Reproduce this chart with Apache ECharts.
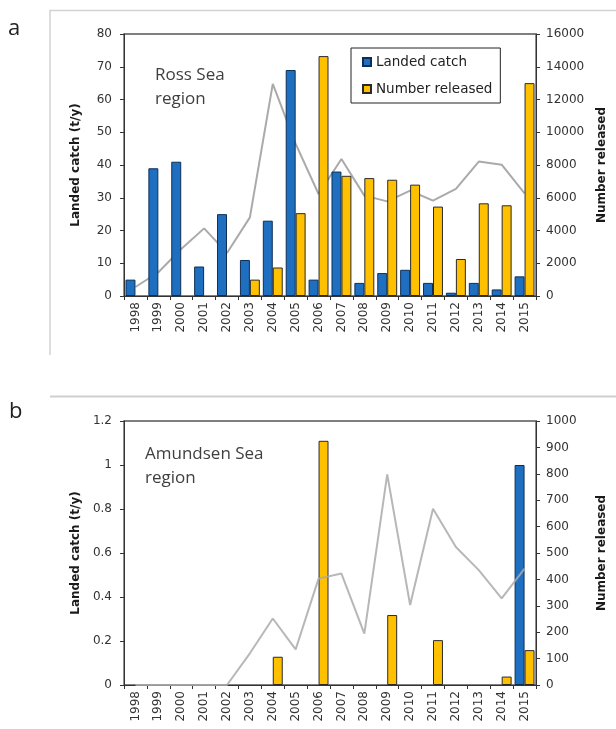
<!DOCTYPE html>
<html>
<head>
<meta charset="utf-8">
<script src="https://cdn.jsdelivr.net/npm/echarts@6/dist/echarts.min.js"></script>
<style>
html,body{margin:0;padding:0;background:#fff;}
#chart{width:616px;height:729px;}
</style>
</head>
<body>
<div id="chart"></div>
<script>
// ---- data ----
const years = ['1998','1999','2000','2001','2002','2003','2004','2005','2006','2007','2008','2009','2010','2011','2012','2013','2014','2015'];
// Panel a: Ross Sea region
const catchA    = [5, 39, 41, 9, 25, 11, 23, 69, 5, 38, 4, 7, 8, 4, 1, 4, 2, 6];
const releasedA = ['-', '-', '-', '-', '-', 1000, 1740, 5060, 14650, 7340, 7200, 7100, 6800, 5460, 2260, 5660, 5540, 13000];
const lineA     = [550, 1450, 2870, 4130, 2630, 4800, 12950, 9290, 6230, 8370, 6130, 5780, 6430, 5820, 6540, 8210, 8020, 6270];
// Panel b: Amundsen Sea region
const catchB    = ['-', '-', '-', '-', '-', '-', '-', '-', '-', '-', '-', '-', '-', '-', '-', '-', '-', 1.0];
const releasedB = ['-', '-', '-', '-', '-', '-', 107, '-', 925, '-', '-', 265, '-', 170, '-', '-', 32, 132];
const lineB     = [0, 0, 0, 0, 0, 120, 252, 135, 403, 422, 195, 798, 303, 668, 523, 435, 328, 441];
// axis ticks
const leftTicksA  = {min: 0, max: 80, interval: 10};
const rightTicksA = {min: 0, max: 16000, interval: 2000};
const leftTicksB  = {min: 0, max: 1.2, interval: 0.2};
const rightTicksB = {min: 0, max: 1000, interval: 100};

const TICK_FONT = 'DejaVu Sans';
const blue = '#1f6fc1', yellow = '#ffc000', grey = '#aaaaaa';

function fmt(v) { return String(parseFloat(Number(v).toFixed(3))); }

function yAxisDef(grid, pos, t, name, gap, margin) {
  return {
    type: 'value', gridIndex: grid, position: pos,
    min: t.min, max: t.max, interval: t.interval,
    name: name, nameLocation: 'middle', nameGap: gap, nameRotate: 90,
    nameTextStyle: {fontFamily: TICK_FONT, fontWeight: 'bold', fontSize: 12, color: '#1a1a1a'},
    axisLine: {show: true, lineStyle: {color: '#333', width: 1}},
    axisTick: {show: true, length: 4, lineStyle: {color: '#333'}},
    axisLabel: {fontFamily: TICK_FONT, fontSize: 12, color: '#333', margin: margin, formatter: fmt},
    splitLine: {show: false}
  };
}
function xAxisDef(grid) {
  return {
    type: 'category', gridIndex: grid, data: years,
    axisLine: {show: true, lineStyle: {color: '#333', width: 1}},
    axisTick: {show: true, length: 4, lineStyle: {color: '#333'}},
    axisLabel: {rotate: 90, fontFamily: TICK_FONT, fontSize: 12, color: '#333', margin: 6, interval: 0},
    splitLine: {show: false}
  };
}
const barBase = {barGap: '0%', barCategoryGap: '13%'};

const option = {
  backgroundColor: '#fff',
  animation: false,
  title: [
    {text: 'Ross Sea\nregion', left: 150, top: 58,
     textStyle: {fontFamily: 'Open Sans', fontSize: 17, fontWeight: 'normal', color: '#404040', lineHeight: 24}},
    {text: 'Amundsen Sea\nregion', left: 140, top: 437,
     textStyle: {fontFamily: 'Open Sans', fontSize: 17, fontWeight: 'normal', color: '#404040', lineHeight: 24}}
  ],
  legend: {
    data: ['Landed catch', 'Number released'],
    orient: 'vertical', left: 351, top: 48,
    itemWidth: 8, itemHeight: 8, itemGap: 13,
    padding: [7, 8, 7, 11],
    borderColor: '#222', borderWidth: 1,
    icon: 'rect',
    textStyle: {fontFamily: TICK_FONT, fontSize: 13.5, color: '#222'}
  },
  grid: [
    {left: 124, top: 34, width: 417, height: 262, show: true, borderColor: '#555', borderWidth: 1.3, backgroundColor: 'transparent'},
    {left: 124, top: 421, width: 418, height: 264, show: true, borderColor: '#555', borderWidth: 1.3, backgroundColor: 'transparent'}
  ],
  xAxis: [xAxisDef(0), xAxisDef(1)],
  yAxis: [
    yAxisDef(0, 'left', leftTicksA, 'Landed catch (t/y)', 42, 12),
    yAxisDef(0, 'right', rightTicksA, 'Number released', 60, 10),
    yAxisDef(1, 'left', leftTicksB, 'Landed catch (t/y)', 42, 12),
    yAxisDef(1, 'right', rightTicksB, 'Number released', 60, 10)
  ],
  series: [
    {type: 'line', name: 'trend a', xAxisIndex: 0, yAxisIndex: 1, data: lineA, symbol: 'none', z: 1,
      lineStyle: {color: grey, width: 2}},
    Object.assign({type: 'bar', name: 'Landed catch', xAxisIndex: 0, yAxisIndex: 0, data: catchA, z: 3,
      itemStyle: {color: blue, borderColor: '#0d2f57', borderWidth: 1}}, barBase),
    Object.assign({type: 'bar', name: 'Number released', xAxisIndex: 0, yAxisIndex: 1, data: releasedA, z: 3,
      itemStyle: {color: yellow, borderColor: '#2a2a2a', borderWidth: 1}}, barBase),
    Object.assign({type: 'bar', name: 'Landed catch', xAxisIndex: 1, yAxisIndex: 2, data: catchB,
      itemStyle: {color: blue, borderColor: '#0d2f57', borderWidth: 1}}, barBase),
    Object.assign({type: 'bar', name: 'Number released', xAxisIndex: 1, yAxisIndex: 3, data: releasedB,
      itemStyle: {color: yellow, borderColor: '#2a2a2a', borderWidth: 1}}, barBase),
    {type: 'line', name: 'trend b', xAxisIndex: 1, yAxisIndex: 3, data: lineB, symbol: 'none', z: 5,
      lineStyle: {color: grey, width: 2, opacity: 0.85}}
  ],
  graphic: [
    {type: 'polyline', shape: {points: [[50, 355], [50, 10.5], [616, 10.5]]}, style: {stroke: '#d2d2d2', lineWidth: 1.5, fill: null}, silent: true},
    {type: 'line', shape: {x1: 50, y1: 396.5, x2: 616, y2: 396.5}, style: {stroke: '#cfcfcf', lineWidth: 2}, silent: true},
    {type: 'text', x: 8, y: 28.5, style: {text: 'a', font: '22px "Open Sans"', fill: '#222', verticalAlign: 'middle'}, silent: true},
    {type: 'text', x: 9, y: 412, style: {text: 'b', font: '22px "Open Sans"', fill: '#222', verticalAlign: 'middle'}, silent: true}
  ]
};
const chart = echarts.init(document.getElementById('chart'), null, {renderer: 'canvas'});
chart.setOption(option);
</script>
</body>
</html>
